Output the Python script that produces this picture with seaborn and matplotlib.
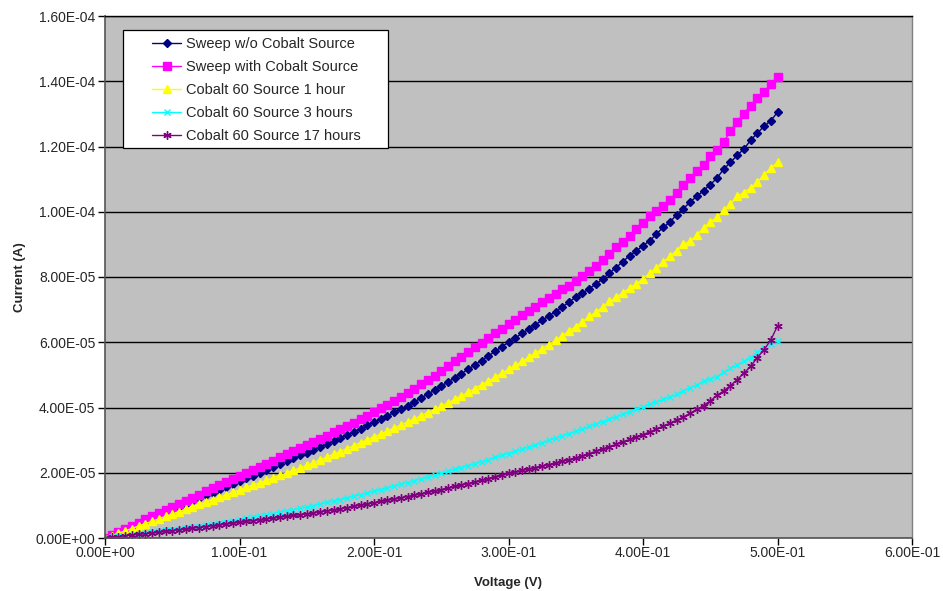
import matplotlib
matplotlib.use('Agg')
import matplotlib.pyplot as plt
from matplotlib.ticker import FuncFormatter, MultipleLocator
from matplotlib.patches import Rectangle
import seaborn as sns
import numpy as np

# voltage sweep (V)
voltage = [
    0.000, 0.005, 0.010, 0.015, 0.020, 0.025, 0.030, 0.035, 0.040, 0.045,
    0.050, 0.055, 0.060, 0.065, 0.070, 0.075, 0.080, 0.085, 0.090, 0.095,
    0.100, 0.105, 0.110, 0.115, 0.120, 0.125, 0.130, 0.135, 0.140, 0.145,
    0.150, 0.155, 0.160, 0.165, 0.170, 0.175, 0.180, 0.185, 0.190, 0.195,
    0.200, 0.205, 0.210, 0.215, 0.220, 0.225, 0.230, 0.235, 0.240, 0.245,
    0.250, 0.255, 0.260, 0.265, 0.270, 0.275, 0.280, 0.285, 0.290, 0.295,
    0.300, 0.305, 0.310, 0.315, 0.320, 0.325, 0.330, 0.335, 0.340, 0.345,
    0.350, 0.355, 0.360, 0.365, 0.370, 0.375, 0.380, 0.385, 0.390, 0.395,
    0.400, 0.405, 0.410, 0.415, 0.420, 0.425, 0.430, 0.435, 0.440, 0.445,
    0.450, 0.455, 0.460, 0.465, 0.470, 0.475, 0.480, 0.485, 0.490, 0.495,
    0.500]

# currents in units of 1e-5 A
sweep_no_cobalt = [
    0.00, 0.09, 0.17, 0.26, 0.35, 0.43, 0.52, 0.61, 0.70, 0.78,
    0.87, 0.96, 1.04, 1.13, 1.22, 1.31, 1.39, 1.48, 1.57, 1.65,
    1.74, 1.83, 1.91, 2.00, 2.09, 2.18, 2.27, 2.36, 2.44, 2.53,
    2.62, 2.71, 2.80, 2.89, 2.98, 3.07, 3.16, 3.26, 3.35, 3.45,
    3.55, 3.65, 3.75, 3.85, 3.95, 4.05, 4.17, 4.29, 4.41, 4.53,
    4.66, 4.78, 4.91, 5.04, 5.17, 5.31, 5.44, 5.58, 5.72, 5.86,
    6.00, 6.13, 6.27, 6.40, 6.54, 6.67, 6.81, 6.94, 7.08, 7.23,
    7.38, 7.51, 7.64, 7.78, 7.94, 8.12, 8.29, 8.47, 8.65, 8.80,
    8.96, 9.11, 9.32, 9.52, 9.68, 9.91, 10.09, 10.30, 10.47, 10.65,
    10.83, 11.03, 11.31, 11.51, 11.73, 11.92, 12.19, 12.41, 12.62, 12.79,
    13.05]

sweep_with_cobalt = [
    0.00, 0.10, 0.19, 0.28, 0.38, 0.47, 0.57, 0.67, 0.76, 0.85,
    0.95, 1.05, 1.14, 1.23, 1.33, 1.43, 1.52, 1.62, 1.71, 1.80,
    1.90, 2.00, 2.08, 2.18, 2.28, 2.37, 2.47, 2.57, 2.66, 2.75,
    2.85, 2.95, 3.04, 3.14, 3.24, 3.33, 3.43, 3.54, 3.64, 3.74,
    3.85, 3.97, 4.08, 4.20, 4.32, 4.43, 4.57, 4.71, 4.84, 4.98,
    5.13, 5.26, 5.41, 5.56, 5.70, 5.86, 5.99, 6.13, 6.27, 6.41,
    6.55, 6.68, 6.82, 6.95, 7.09, 7.22, 7.36, 7.49, 7.62, 7.73,
    7.88, 8.02, 8.17, 8.35, 8.53, 8.70, 8.91, 9.08, 9.26, 9.47,
    9.67, 9.88, 10.01, 10.19, 10.37, 10.59, 10.83, 11.03, 11.24, 11.44,
    11.70, 11.88, 12.13, 12.48, 12.76, 13.01, 13.25, 13.49, 13.67, 13.92,
    14.13]

cobalt_1h = [
    0.00, 0.07, 0.15, 0.22, 0.29, 0.37, 0.44, 0.51, 0.59, 0.66,
    0.74, 0.81, 0.88, 0.96, 1.03, 1.10, 1.18, 1.25, 1.32, 1.40,
    1.47, 1.55, 1.62, 1.69, 1.77, 1.84, 1.92, 1.99, 2.07, 2.15,
    2.23, 2.31, 2.40, 2.48, 2.57, 2.65, 2.74, 2.83, 2.92, 3.01,
    3.10, 3.19, 3.28, 3.37, 3.46, 3.56, 3.65, 3.75, 3.84, 3.94,
    4.04, 4.14, 4.25, 4.36, 4.47, 4.58, 4.70, 4.81, 4.93, 5.05,
    5.17, 5.29, 5.41, 5.54, 5.67, 5.80, 5.93, 6.06, 6.20, 6.34,
    6.48, 6.63, 6.79, 6.92, 7.08, 7.25, 7.38, 7.52, 7.66, 7.79,
    7.94, 8.12, 8.29, 8.46, 8.63, 8.81, 9.01, 9.09, 9.29, 9.50,
    9.68, 9.83, 10.04, 10.24, 10.47, 10.59, 10.73, 10.90, 11.13, 11.34,
    11.51]

cobalt_3h = [
    0.00, 0.02, 0.05, 0.07, 0.10, 0.12, 0.15, 0.18, 0.20, 0.23,
    0.26, 0.29, 0.32, 0.34, 0.37, 0.40, 0.43, 0.46, 0.50, 0.53,
    0.56, 0.60, 0.64, 0.67, 0.71, 0.75, 0.79, 0.83, 0.87, 0.91,
    0.95, 0.99, 1.04, 1.09, 1.13, 1.18, 1.23, 1.28, 1.33, 1.38,
    1.43, 1.48, 1.54, 1.59, 1.65, 1.70, 1.76, 1.81, 1.87, 1.92,
    1.98, 2.04, 2.10, 2.16, 2.22, 2.28, 2.34, 2.40, 2.47, 2.53,
    2.59, 2.66, 2.72, 2.79, 2.85, 2.92, 2.99, 3.06, 3.13, 3.20,
    3.27, 3.34, 3.42, 3.49, 3.57, 3.64, 3.72, 3.79, 3.87, 3.94,
    4.02, 4.10, 4.17, 4.25, 4.32, 4.40, 4.51, 4.61, 4.69, 4.80,
    4.88, 4.95, 5.08, 5.20, 5.31, 5.41, 5.53, 5.70, 5.82, 5.94,
    6.04]

cobalt_17h = [
    0.00, 0.02, 0.04, 0.07, 0.09, 0.11, 0.13, 0.15, 0.17, 0.20,
    0.22, 0.25, 0.27, 0.30, 0.32, 0.35, 0.38, 0.40, 0.43, 0.45,
    0.48, 0.51, 0.53, 0.56, 0.58, 0.61, 0.64, 0.66, 0.69, 0.71,
    0.74, 0.77, 0.80, 0.83, 0.86, 0.89, 0.93, 0.97, 1.01, 1.04,
    1.08, 1.12, 1.16, 1.19, 1.23, 1.27, 1.31, 1.35, 1.40, 1.44,
    1.48, 1.53, 1.58, 1.62, 1.67, 1.72, 1.77, 1.82, 1.88, 1.93,
    1.98, 2.02, 2.07, 2.11, 2.16, 2.20, 2.25, 2.30, 2.35, 2.40,
    2.45, 2.52, 2.59, 2.66, 2.73, 2.80, 2.87, 2.95, 3.02, 3.10,
    3.17, 3.25, 3.34, 3.43, 3.52, 3.61, 3.71, 3.82, 3.94, 4.06,
    4.20, 4.37, 4.51, 4.67, 4.85, 5.05, 5.26, 5.53, 5.77, 6.07,
    6.50]

labels = ["Sweep w/o Cobalt Source", "Sweep with Cobalt Source",
          "Cobalt 60 Source 1 hour", "Cobalt 60 Source 3 hours",
          "Cobalt 60 Source 17 hours"]
colors = ["#000080", "#FF00FF", "#FFFF00", "#00FFFF", "#800080"]
markers = ["D", "s", "^", "x", (6, 2, 0)]
msizes = [4.4, 5.4, 5.6, 5.0, 6.0]


def sci(v, pos):
    return "%.2E" % v


def main():
    sns.set_style("white")
    plt.rcParams['font.family'] = ['Liberation Sans', 'DejaVu Sans']

    fig = plt.figure(figsize=(9.43, 5.91), dpi=100)
    ax = fig.add_axes([105 / 943, 1 - 538 / 591, 807 / 943, 522 / 591])
    ax.set_facecolor("#C0C0C0")

    series = [sweep_no_cobalt, sweep_with_cobalt, cobalt_1h, cobalt_3h, cobalt_17h]
    for vals, lab, col, mk, ms in zip(series, labels, colors, markers, msizes):
        sns.lineplot(x=voltage, y=np.array(vals) * 1e-5, ax=ax, color=col,
                     marker=mk, markersize=ms, markeredgecolor=col,
                     markerfacecolor=col, markeredgewidth=1.0,
                     linewidth=1.0, label=lab, sort=False)

    ax.set_xlim(0, 0.6)
    ax.set_ylim(0, 1.6e-4)
    ax.xaxis.set_major_locator(MultipleLocator(0.1))
    ax.yaxis.set_major_locator(MultipleLocator(2e-5))
    ax.xaxis.set_major_formatter(FuncFormatter(sci))
    ax.yaxis.set_major_formatter(FuncFormatter(sci))
    ax.grid(True, axis='y', color='black', linewidth=1.0)
    ax.grid(False, axis='x')
    ax.set_axisbelow(True)

    ax.tick_params(axis='both', direction='out', length=5, width=1,
                   color='black', labelsize=10, left=True, bottom=True)
    ax.tick_params(axis='x', pad=1)
    ax.tick_params(axis='y', pad=2)
    for s in ['left', 'bottom']:
        ax.spines[s].set_color('#555555')
        ax.spines[s].set_linewidth(1.2)
    ax.spines['top'].set_color('black')
    ax.spines['top'].set_linewidth(1.0)
    ax.spines['right'].set_color('#808080')
    ax.spines['right'].set_linewidth(1.0)

    ax.set_xlabel("Voltage (V)", fontsize=9.5, fontweight='bold', labelpad=12)
    ax.set_ylabel("Current (A)", fontsize=9.5, fontweight='bold', labelpad=7)

    # Excel style legend box: wide side padding, tight top/bottom
    box = Rectangle((18 / 807, (538 - 148) / 522), 265 / 807, 118 / 522,
                    transform=ax.transAxes, facecolor='white',
                    edgecolor='black', linewidth=0.9, zorder=5)
    ax.add_patch(box)
    leg = ax.legend(loc='upper left', bbox_to_anchor=(47 / 807, (538 - 37) / 522),
                    fontsize=10.5, frameon=False, handlelength=2.0,
                    labelspacing=0.62, borderpad=0, borderaxespad=0,
                    handletextpad=0.3)
    leg.set_zorder(6)

    fig.savefig("out.png", dpi=100, facecolor='white')


if __name__ == '__main__':
    main()
